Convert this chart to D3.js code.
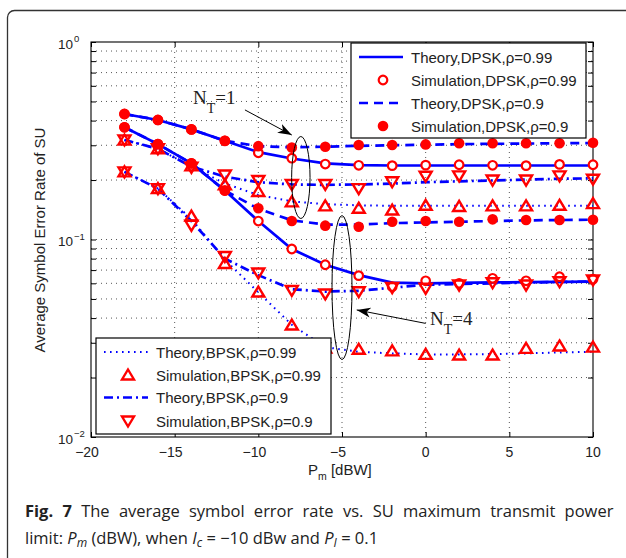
<!DOCTYPE html>
<html lang="en">
<head>
<meta charset="UTF-8">
<script src='https://cdnjs.cloudflare.com/ajax/libs/d3/7.8.5/d3.min.js'></script>
<title>Fig. 7</title>
<style>
    body { margin: 0; background: #fff; }
    svg { display: block; font-family: Arial, "Liberation Sans", sans-serif; }
</style>
</head>
<body>
<div id='plot'></div>
<script>
// P_m values (dBW)
var pm = [-18, -16, -14, -12, -10, -8, -6, -4, -2, 0, 2, 4, 6, 8, 10];

// DPSK, N_T = 1
var thDpsk99_n1  = [0.432, 0.403, 0.361, 0.316, 0.277, 0.257, 0.243, 0.238, 0.237, 0.237, 0.237, 0.237, 0.237, 0.237, 0.237];
var simDpsk99_n1 = [0.432, 0.403, 0.361, 0.316, 0.275, 0.258, 0.241, 0.2375, 0.2365, 0.238, 0.239, 0.2375, 0.2365, 0.240, 0.239];
var thDpsk9_n1   = [0.432, 0.403, 0.361, 0.316, 0.297, 0.293, 0.295, 0.298, 0.300, 0.302, 0.304, 0.305, 0.306, 0.307, 0.308];
var simDpsk9_n1  = [0.432, 0.403, 0.361, 0.316, 0.297, 0.292, 0.295, 0.301, 0.301, 0.303, 0.307, 0.307, 0.307, 0.307, 0.309];
// DPSK, N_T = 4
var thDpsk99_n4  = [0.370, 0.304, 0.243, 0.177, 0.124, 0.0895, 0.0745, 0.066, 0.0605, 0.060, 0.0603, 0.0606, 0.0608, 0.061, 0.0612];
var simDpsk99_n4 = [0.370, 0.304, 0.243, 0.177, 0.124, 0.0895, 0.0745, 0.0656, 0.0577, 0.0618, 0.060, 0.0636, 0.0618, 0.0648, 0.0629];
var thDpsk9_n4   = [0.370, 0.304, 0.243, 0.177, 0.143, 0.125, 0.119, 0.119, 0.121, 0.122, 0.123, 0.124, 0.125, 0.1255, 0.126];
var simDpsk9_n4  = [0.370, 0.304, 0.243, 0.177, 0.144, 0.124, 0.1175, 0.116, 0.123, 0.124, 0.123, 0.1265, 0.1255, 0.1255, 0.126];
// BPSK, N_T = 1
var thBpsk99_n1  = [0.319, 0.288, 0.234, 0.192, 0.168, 0.156, 0.151, 0.149, 0.148, 0.148, 0.148, 0.148, 0.148, 0.148, 0.148];
var simBpsk99_n1 = [0.319, 0.288, 0.236, 0.189, 0.175, 0.155, 0.148, 0.144, 0.141, 0.149, 0.147, 0.148, 0.148, 0.149, 0.152];
var thBpsk9_n1   = [0.319, 0.288, 0.234, 0.208, 0.195, 0.190, 0.189, 0.190, 0.192, 0.195, 0.197, 0.199, 0.201, 0.203, 0.204];
var simBpsk9_n1  = [0.319, 0.288, 0.232, 0.212, 0.199, 0.190, 0.190, 0.181, 0.196, 0.209, 0.210, 0.200, 0.200, 0.210, 0.202];
// BPSK, N_T = 4
var thBpsk99_n4  = [0.220, 0.181, 0.127, 0.079, 0.054, 0.037, 0.0285, 0.027, 0.0265, 0.0262, 0.0262, 0.0263, 0.0265, 0.0268, 0.027];
var simBpsk99_n4 = [0.220, 0.181, 0.1315, 0.0756, 0.0542, 0.0369, 0.0282, 0.0278, 0.0273, 0.0262, 0.026, 0.026, 0.0281, 0.0289, 0.0285];
var thBpsk9_n4   = [0.220, 0.181, 0.124, 0.080, 0.066, 0.056, 0.0545, 0.055, 0.057, 0.059, 0.0595, 0.060, 0.0605, 0.061, 0.0612];
var simBpsk9_n4  = [0.220, 0.181, 0.118, 0.082, 0.0677, 0.0552, 0.053, 0.0544, 0.0571, 0.0566, 0.0588, 0.0604, 0.0588, 0.0611, 0.0624];

// ticks and labels
var xTicks = [-20, -15, -10, -5, 0, 5, 10];
var xTickLabels = ['\u221220', '\u221215', '\u221210', '\u22125', '0', '5', '10'];
var yTicks = [1, 0.1, 0.01];
var yTickExp = ['0', '\u22121', '\u22122'];
var legendDpsk = ['Theory,DPSK,\u03c1=0.99', 'Simulation,DPSK,\u03c1=0.99', 'Theory,DPSK,\u03c1=0.9', 'Simulation,DPSK,\u03c1=0.9'];
var legendBpsk = ['Theory,BPSK,\u03c1=0.99', 'Simulation,BPSK,\u03c1=0.99', 'Theory,BPSK,\u03c1=0.9', 'Simulation,BPSK,\u03c1=0.9'];

var W = 626, H = 558;
var blue = '#0000ff', red = '#ff0000';
var dashes = { solid: null, dash: '9,6', dot: '1.6,4.4', dashdot: '9,4,2,4' };

var svg = d3.select('#plot').append('svg').attr('width', W).attr('height', H);

// figure frame (runs off the page right and bottom)
svg.append('rect')
    .attr('x', 7.5).attr('y', 10.5).attr('width', 720).attr('height', 700).attr('rx', 7)
    .attr('fill', 'none').attr('stroke', '#333').attr('stroke-width', 1.3);

var x = d3.scaleLinear().domain([-20, 10]).range([91, 593]);
var y = d3.scaleLog().domain([0.01, 1]).range([437, 42]);

// grid
var grid = svg.append('g').attr('stroke', '#444').attr('stroke-width', 0.9).attr('stroke-dasharray', '1,4');
grid.selectAll('.gx').data(xTicks.slice(1, -1)).enter().append('line')
    .attr('x1', d => x(d)).attr('x2', d => x(d)).attr('y1', 42).attr('y2', 437);
grid.selectAll('.gy').data(y.ticks().filter(d => d > 0.0101 && d < 0.99)).enter().append('line')
    .attr('y1', d => y(d)).attr('y2', d => y(d)).attr('x1', 91).attr('x2', 593);

// ticks, inward on all four sides
svg.append('g').attr('transform', 'translate(0,437)')
    .call(d3.axisBottom(x).tickValues(xTicks).tickSize(-5).tickFormat(''))
    .call(g => g.select('.domain').remove());
svg.append('g').attr('transform', 'translate(0,42)')
    .call(d3.axisTop(x).tickValues(xTicks).tickSize(-5).tickFormat(''))
    .call(g => g.select('.domain').remove());
svg.append('g').attr('transform', 'translate(91,0)')
    .call(d3.axisLeft(y).tickValues(y.ticks()).tickSize(-5).tickFormat(''))
    .call(g => g.select('.domain').remove());
svg.append('g').attr('transform', 'translate(593,0)')
    .call(d3.axisRight(y).tickValues(y.ticks()).tickSize(-5).tickFormat(''))
    .call(g => g.select('.domain').remove());

svg.append('rect').attr('x', 91).attr('y', 42).attr('width', 502).attr('height', 395)
    .attr('fill', 'none').attr('stroke', '#000').attr('stroke-width', 1.1);

// tick labels
svg.append('g').selectAll('text').data(xTicks).enter().append('text')
    .attr('x', d => x(d) - (d < 0 ? 4 : 0)).attr('y', 457)
    .attr('text-anchor', 'middle').attr('font-size', 14).attr('fill', '#222')
    .text((d, i) => xTickLabels[i]);
var yl = svg.append('g').selectAll('text').data(yTicks).enter().append('text')
    .attr('x', 58).attr('y', d => y(d) + 6.5)
    .attr('font-size', 13.5).attr('fill', '#222');
yl.append('tspan').text('10');
yl.append('tspan').attr('font-size', 9.5).attr('dy', -6.5).attr('dx', 1).text((d, i) => yTickExp[i]);

// axis titles
svg.append('text')
    .attr('transform', 'translate(45,240) rotate(-90)')
    .attr('text-anchor', 'middle').attr('font-size', 15).attr('fill', '#222')
    .text('Average Symbol Error Rate of SU');
var xt = svg.append('text').attr('x', 308).attr('y', 475).attr('font-size', 15).attr('fill', '#222');
xt.append('tspan').text('P');
xt.append('tspan').attr('font-size', 10.5).attr('dy', 5).text('m');
xt.append('tspan').attr('dy', -5).text(' [dBW]');

// curves
var line = d3.line().x((d, i) => x(pm[i])).y(d => y(d));
var theory = [
    { v: thDpsk99_n1, s: 'solid' }, { v: thDpsk99_n4, s: 'solid' },
    { v: thDpsk9_n1, s: 'dash' }, { v: thDpsk9_n4, s: 'dash' },
    { v: thBpsk99_n1, s: 'dot' }, { v: thBpsk99_n4, s: 'dot' },
    { v: thBpsk9_n1, s: 'dashdot' }, { v: thBpsk9_n4, s: 'dashdot' }
];
var plot = svg.append('g');
plot.selectAll('.th').data(theory).enter().append('path')
    .attr('d', d => line(d.v))
    .attr('fill', 'none').attr('stroke', blue)
    .attr('stroke-width', d => d.s == 'dot' ? 2 : 2.7)
    .attr('stroke-dasharray', d => dashes[d.s]);

var tri = 'M0,-5.5L6,4.5L-6,4.5Z';
function addMarker(sel, type) {
    if (type == 'open') {
        sel.append('circle').attr('r', 4.3).attr('fill', '#fff').attr('stroke', red).attr('stroke-width', 2.2);
    } else if (type == 'filled') {
        sel.append('circle').attr('r', 5.3).attr('fill', red);
    } else {
        sel.append('path').attr('d', tri).attr('fill', 'none').attr('stroke', red).attr('stroke-width', 2.4)
            .attr('stroke-linejoin', 'miter')
            .attr('transform', type == 'down' ? 'rotate(180)' : null);
    }
}
var sims = [
    { v: simDpsk99_n1, m: 'open' }, { v: simDpsk99_n4, m: 'open' },
    { v: simDpsk9_n1, m: 'filled' }, { v: simDpsk9_n4, m: 'filled' },
    { v: simBpsk99_n1, m: 'up' }, { v: simBpsk99_n4, m: 'up' },
    { v: simBpsk9_n1, m: 'down' }, { v: simBpsk9_n4, m: 'down' }
];
sims.forEach(function (s) {
    var g = plot.append('g').selectAll('g').data(s.v).enter().append('g')
        .attr('transform', (d, i) => 'translate(' + x(pm[i]) + ',' + y(d) + ')');
    addMarker(g, s.m);
});

// legends
function legend(x0, y0, w, h, rows, labels, styles, marks) {
    var g = svg.append('g');
    g.append('rect').attr('x', x0).attr('y', y0).attr('width', w).attr('height', h)
        .attr('fill', '#fff').attr('stroke', '#000').attr('stroke-width', 1.2);
    labels.forEach(function (t, i) {
        var cy = rows[i];
        if (styles[i]) {
            g.append('line').attr('x1', x0 + 8).attr('x2', x0 + 52).attr('y1', cy).attr('y2', cy)
                .attr('stroke', blue).attr('stroke-width', styles[i] == 'dot' ? 2 : 2.7)
                .attr('stroke-dasharray', dashes[styles[i]]);
        } else {
            addMarker(g.append('g').attr('transform', 'translate(' + (x0 + 32) + ',' + cy + ')'), marks[i]);
        }
        g.append('text').attr('x', x0 + 60).attr('y', cy + 5.5)
            .attr('font-size', 15).attr('fill', '#222').text(t);
    });
}
legend(351, 43, 235, 95, [57, 80, 103, 126], legendDpsk, ['solid', null, 'dash', null], [null, 'open', null, 'filled']);
legend(96, 338, 235, 96, [352, 375, 397.5, 421], legendBpsk, ['dot', null, 'dashdot', null], [null, 'up', null, 'down']);

// N_T annotations
svg.append('defs').append('marker').attr('id', 'ah')
    .attr('viewBox', '-14 -6 16 12').attr('markerWidth', 16).attr('markerHeight', 12)
    .attr('markerUnits', 'userSpaceOnUse').attr('orient', 'auto').attr('refX', 0).attr('refY', 0)
    .append('path').attr('d', 'M0,0L-14,-5L-10,0L-14,5Z').attr('fill', '#000');
var ann = svg.append('g').attr('fill', 'none').attr('stroke', '#000').attr('stroke-width', 1);
ann.append('ellipse').attr('cx', x(-7.46)).attr('cy', y(0.206)).attr('rx', 9.2).attr('ry', 41);
ann.append('ellipse').attr('cx', x(-5)).attr('cy', y(0.0571)).attr('rx', 10).attr('ry', 72);
ann.append('line').attr('x1', x(-10.8)).attr('y1', y(0.453)).attr('x2', x(-8.0)).attr('y2', y(0.338))
    .attr('marker-end', 'url(#ah)');
ann.append('line').attr('x1', x(0)).attr('y1', y(0.0376)).attr('x2', x(-4.12)).attr('y2', y(0.044))
    .attr('marker-end', 'url(#ah)');

function ntLabel(xv, yv, n) {
    var t = svg.append('text').attr('x', x(xv)).attr('y', y(yv))
        .attr('font-family', '"Liberation Serif", "Times New Roman", serif').attr('font-size', 19).attr('fill', '#222');
    t.append('tspan').text('N');
    t.append('tspan').attr('font-size', 14).attr('dy', 9).text('T');
    t.append('tspan').attr('dy', -9).text('=' + n);
}
ntLabel(-13.9, 0.485, 1);
ntLabel(0.26, 0.0369, 4);

// caption (first line is justified in the source, hence the word spacing)
var cap = svg.append('g').attr('font-family', '"Open Sans", sans-serif').attr('font-size', 16.5).attr('fill', '#222');
var c1 = cap.append('text').attr('x', 25).attr('y', 517).attr('word-spacing', 5);
c1.append('tspan').attr('font-weight', 'bold').text('Fig. 7');
c1.append('tspan').text(' The average symbol error rate vs. SU maximum transmit power');
var c2 = cap.append('text').attr('x', 25).attr('y', 544);
c2.append('tspan').text('limit: ');
c2.append('tspan').attr('font-style', 'italic').text('P');
c2.append('tspan').attr('font-style', 'italic').attr('font-size', 12).attr('dy', 3).text('m');
c2.append('tspan').attr('dy', -3).text(' (dBW), when ');
c2.append('tspan').attr('font-style', 'italic').text('I');
c2.append('tspan').attr('font-style', 'italic').attr('font-size', 12).attr('dy', 3).text('c');
c2.append('tspan').attr('dy', -3).text(' = \u221210 dBw and ');
c2.append('tspan').attr('font-style', 'italic').text('P');
c2.append('tspan').attr('font-style', 'italic').attr('font-size', 12).attr('dy', 3).text('I');
c2.append('tspan').attr('dy', -3).text(' = 0.1');
</script>
</body>
</html>
